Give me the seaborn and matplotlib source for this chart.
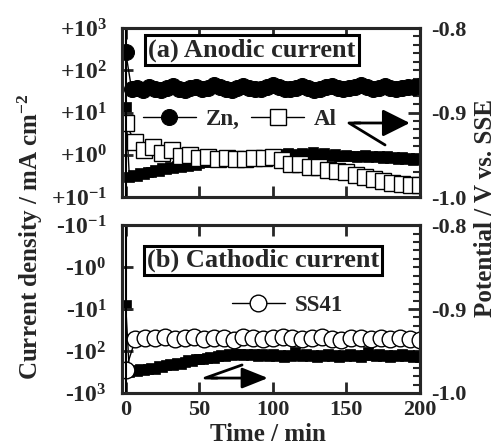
import numpy as np
import pandas as pd
import matplotlib
matplotlib.use("Agg")
import matplotlib.pyplot as plt
from matplotlib.ticker import FixedLocator, FixedFormatter, MultipleLocator, NullLocator
import seaborn as sns

#data
t_zn = np.arange(0, 201, 4)
zn_current = [270, 36, 38, 35, 40, 37, 34, 38, 42, 37,
              35, 39, 41, 36, 38, 44, 40, 36, 35, 38,
              42, 39, 36, 37, 41, 45, 40, 37, 36, 39,
              42, 38, 35, 37, 40, 43, 39, 36, 38, 41,
              44, 40, 37, 38, 42, 39, 36, 38, 41, 40,
              42]

t_al = np.linspace(0, 200, 33)
al_current = [5.6, 2.0, 1.3, 1.55, 1.1, 1.3, 0.95, 1.0, 0.85, 0.9,
              0.8, 0.82, 0.8, 0.8, 0.82, 0.85, 0.88, 0.75, 0.62, 0.6,
              0.52, 0.5, 0.44, 0.42, 0.4, 0.33, 0.3, 0.27, 0.24, 0.21,
              0.2, 0.19, 0.19]

t_ss = np.linspace(0, 200, 31)
ss41_current = [280, 52, 48, 50, 47, 53, 49, 46, 51, 48,
                50, 54, 47, 49, 52, 48, 46, 50, 53, 49,
                47, 51, 55, 48, 50, 52, 49, 53, 50, 51,
                56]

t_pot = np.arange(0, 200.1, 2.5)
pot_anodic = [-0.893, -0.976, -0.974, -0.975, -0.972, -0.973, -0.970, -0.971, -0.968, -0.969,
              -0.966, -0.967, -0.964, -0.966, -0.963, -0.964, -0.962, -0.963, -0.960, -0.962,
              -0.960, -0.958, -0.959, -0.957, -0.958, -0.956, -0.957, -0.955, -0.956, -0.954,
              -0.955, -0.953, -0.954, -0.955, -0.952, -0.953, -0.951, -0.952, -0.950, -0.952,
              -0.950, -0.951, -0.949, -0.951, -0.948, -0.950, -0.949, -0.951, -0.948, -0.950,
              -0.949, -0.947, -0.949, -0.950, -0.948, -0.950, -0.951, -0.949, -0.951, -0.952,
              -0.950, -0.952, -0.951, -0.953, -0.952, -0.950, -0.953, -0.951, -0.953, -0.952,
              -0.954, -0.952, -0.954, -0.953, -0.955, -0.953, -0.955, -0.954, -0.956, -0.954,
              -0.955]
pot_cathodic = [-0.895, -0.975, -0.973, -0.974, -0.972, -0.973, -0.971, -0.970, -0.971, -0.968,
                -0.969, -0.967, -0.966, -0.967, -0.964, -0.965, -0.963, -0.961, -0.962, -0.960,
                -0.959, -0.960, -0.958, -0.957, -0.958, -0.956, -0.955, -0.956, -0.954, -0.955,
                -0.953, -0.954, -0.955, -0.953, -0.955, -0.954, -0.956, -0.954, -0.955, -0.956,
                -0.954, -0.956, -0.955, -0.957, -0.955, -0.956, -0.951, -0.955, -0.956, -0.954,
                -0.956, -0.955, -0.957, -0.955, -0.956, -0.954, -0.956, -0.955, -0.957, -0.955,
                -0.956, -0.954, -0.956, -0.955, -0.957, -0.955, -0.951, -0.955, -0.956, -0.954,
                -0.956, -0.955, -0.957, -0.955, -0.956, -0.954, -0.956, -0.955, -0.957, -0.956,
                -0.957]

time_ticks = [0, 50, 100, 150, 200]
current_ticks = [0.1, 1, 10, 100, 1000]
anodic_labels = ["+10$^{-1}$", "+10$^{0}$", "+10$^{1}$", "+10$^{2}$", "+10$^{3}$"]
cathodic_labels = ["-10$^{-1}$", "-10$^{0}$", "-10$^{1}$", "-10$^{2}$", "-10$^{3}$"]
pot_ticks = [-1.0, -0.9, -0.8]
pot_labels = ["-1.0", "-0.9", "-0.8"]

sns.set_style("ticks")
plt.rcParams['font.family'] = ['Liberation Serif', 'DejaVu Serif']
plt.rcParams['font.weight'] = 'bold'
plt.rcParams['mathtext.fontset'] = 'custom'
plt.rcParams['mathtext.rm'] = 'Liberation Serif:bold'
plt.rcParams['mathtext.it'] = 'Liberation Serif:bold'
plt.rcParams['mathtext.bf'] = 'Liberation Serif:bold'
plt.rcParams['axes.linewidth'] = 2.2

fig = plt.figure(figsize=(4.99, 4.44), dpi=100)
ax_a = fig.add_axes([0.2445, 0.5563, 0.597, 0.3806])
ax_b = fig.add_axes([0.2445, 0.1149, 0.597, 0.378])

def style_axes(ax, ylabels, show_x):
    ax.set_yscale("log")
    ax.set_ylim(0.1, 1000)
    ax.set_xlim(-2.5, 200)
    ax.yaxis.set_major_locator(FixedLocator(current_ticks))
    ax.yaxis.set_major_formatter(FixedFormatter(ylabels))
    ax.yaxis.set_minor_locator(NullLocator())
    ax.xaxis.set_major_locator(FixedLocator(time_ticks))
    ax.tick_params(axis='both', direction='in', length=8, width=2, labelsize=16)
    ax.tick_params(axis='y', pad=11, labelsize=17)
    ax.tick_params(axis='x', top=True, pad=5, labelbottom=show_x)
    ax.axvline(0, color='k', lw=1.5)
    ax.set_xlabel("")
    ax.set_ylabel("")

def style_potential(ax2):
    ax2.set_ylim(-1.0, -0.8)
    ax2.yaxis.set_major_locator(FixedLocator(pot_ticks))
    ax2.yaxis.set_major_formatter(FixedFormatter(pot_labels))
    ax2.yaxis.set_minor_locator(MultipleLocator(0.01))
    ax2.tick_params(axis='y', which='major', direction='in', length=9, width=2, labelsize=16, pad=8)
    ax2.tick_params(axis='y', which='minor', direction='in', length=5, width=1.5)
    ax2.set_ylabel("")

#(a) anodic
ax_a2 = ax_a.twinx()
sns.lineplot(x=t_pot, y=pot_anodic, ax=ax_a2, color='k', lw=1, marker='s',
             markersize=6.5, markeredgecolor='k', markeredgewidth=0.5)
sns.lineplot(x=t_zn, y=zn_current, ax=ax_a, color='k', lw=1, marker='o',
             markersize=11.5, markerfacecolor='k', markeredgecolor='k', label='Zn,')
sns.lineplot(x=t_al, y=al_current, ax=ax_a, color='k', lw=1, marker='s',
             markersize=11.5, markerfacecolor='white', markeredgecolor='k',
             markeredgewidth=1, label='Al')
ax_a.set_zorder(ax_a2.get_zorder() + 1)
ax_a.patch.set_visible(False)
style_axes(ax_a, anodic_labels, False)
style_potential(ax_a2)
ax_a.legend(loc='center left', bbox_to_anchor=(0.07, 0.456), ncol=2, frameon=False,
            handlelength=2.3, handletextpad=0.45, columnspacing=0.5,
            borderpad=0, borderaxespad=0, prop=dict(size=16.5, weight='bold'))
ax_a.text(0.436, 0.87, "(a) Anodic current", transform=ax_a.transAxes,
          ha='center', va='center', fontsize=19, fontweight='bold',
          bbox=dict(boxstyle='square,pad=0.12', fc='white', ec='k', lw=2.2))
ax_a.plot([0.883, 0.762, 0.80], [0.308, 0.438, 0.438], transform=ax_a.transAxes,
          color='k', lw=2)
ax_a.annotate('', xy=(0.966, 0.438), xytext=(0.78, 0.438), xycoords='axes fraction',
              arrowprops=dict(arrowstyle='-|>,head_length=0.8,head_width=0.4',
                              mutation_scale=21, color='k', lw=2, shrinkA=0, shrinkB=0))

#(b) cathodic
ax_b2 = ax_b.twinx()
sns.lineplot(x=t_pot, y=pot_cathodic, ax=ax_b2, color='k', lw=1, marker='s',
             markersize=6.5, markeredgecolor='k', markeredgewidth=0.5)
sns.lineplot(x=t_ss, y=ss41_current, ax=ax_b, color='k', lw=1, marker='o',
             markersize=12, markerfacecolor='white', markeredgecolor='k',
             markeredgewidth=1, label='SS41')
ax_b.set_zorder(ax_b2.get_zorder() + 1)
ax_b.patch.set_visible(False)
style_axes(ax_b, cathodic_labels, True)
ax_b.invert_yaxis()
style_potential(ax_b2)
ax_b.legend(loc='center left', bbox_to_anchor=(0.369, 0.524), frameon=False,
            handlelength=2.3, handletextpad=0.45,
            borderpad=0, borderaxespad=0, prop=dict(size=16.5, weight='bold'))
ax_b.text(0.473, 0.79, "(b) Cathodic current", transform=ax_b.transAxes,
          ha='center', va='center', fontsize=19, fontweight='bold',
          bbox=dict(boxstyle='square,pad=0.12', fc='white', ec='k', lw=2.2))
ax_b.plot([0.403, 0.279, 0.32], [0.167, 0.089, 0.089], transform=ax_b.transAxes,
          color='k', lw=2)
ax_b.annotate('', xy=(0.49, 0.089), xytext=(0.30, 0.089), xycoords='axes fraction',
              arrowprops=dict(arrowstyle='-|>,head_length=1.0,head_width=0.4',
                              mutation_scale=16, color='k', lw=2, shrinkA=0, shrinkB=0))

fig.text(30/499, 1 - 237/444, "Current density / mA cm$^{-2}$", rotation=90,
         ha='center', va='center', fontsize=18, fontweight='bold')
fig.text(485/499, 1 - 208/444, "Potential / V vs. SSE", rotation=90,
         ha='center', va='center', fontsize=18, fontweight='bold')
fig.text(268/499, 1 - 434/444, "Time / min", ha='center', va='center',
         fontsize=18, fontweight='bold')

fig.savefig("out.png", dpi=100)
